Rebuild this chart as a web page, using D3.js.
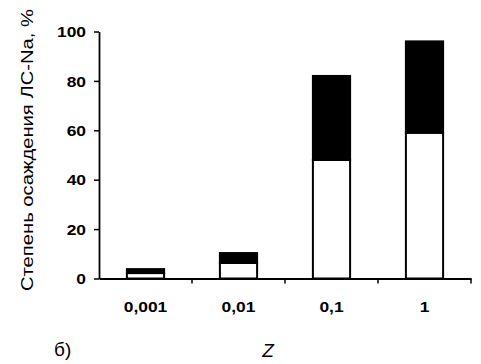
<!DOCTYPE html>
<html><head><meta charset="utf-8">
<script src="https://cdn.jsdelivr.net/npm/d3@7"></script>
<style>
html,body{margin:0;padding:0;background:#fff;}
svg text{font-family:"Liberation Sans",Arial,sans-serif;fill:#000;}
</style></head>
<body>
<svg id="c" width="481" height="364"></svg>
<script>
const categories = ["0,001", "0,01", "0,1", "1"];
const whitePart = [2.2, 6.3, 48, 59];
const darkPart  = [1.6, 4.0, 34, 37];
const yTicks = [0, 20, 40, 60, 80, 100];
const yLabel = "Степень осаждения ЛС-Na, %";
const xLabel = "Z";
const panelLabel = "б)";

const svg = d3.select("#c");
const x0 = 99, x1 = 471, yBottom = 278.5, yTop = 31.5;

const x = d3.scaleBand().domain(categories).range([x0, x1]).paddingInner(0.6).paddingOuter(0.3);
const y = d3.scaleLinear().domain([0, 100]).range([yBottom, yTop]);

const rows = categories.map((c, i) => ({c, w: whitePart[i], d: darkPart[i]}));

// bars
const g = svg.append("g");
g.selectAll("rect.w").data(rows).join("rect")
  .attr("x", r => x(r.c)).attr("width", x.bandwidth())
  .attr("y", r => y(r.w)).attr("height", r => y(0) - y(r.w))
  .attr("fill", "#fff").attr("stroke", "#000").attr("stroke-width", 2);
g.selectAll("rect.d").data(rows).join("rect")
  .attr("x", r => x(r.c)).attr("width", x.bandwidth())
  .attr("y", r => y(r.w + r.d)).attr("height", r => y(r.w) - y(r.w + r.d))
  .attr("fill", "#000").attr("stroke", "#000").attr("stroke-width", 2);

function stretch(sel, k) {
  sel.each(function() {
    const L = this.getComputedTextLength();
    d3.select(this).attr("textLength", L * k).attr("lengthAdjust", "spacingAndGlyphs");
  });
}

// y axis
const ya = svg.append("g").attr("transform", `translate(${x0},0)`)
  .call(d3.axisLeft(y).tickValues(yTicks).tickSize(5).tickPadding(8).tickSizeOuter(0));
ya.select(".domain").attr("stroke-width", 1.8);
ya.selectAll(".tick line").attr("stroke-width", 1.5);
ya.selectAll(".tick text").attr("font-size", 14.5).attr("font-weight", "bold")
  .attr("font-family", "Liberation Sans, Arial, sans-serif").attr("dy", "0.36em");
stretch(ya.selectAll(".tick text"), 1.2);

// x axis
const xa = svg.append("g").attr("transform", `translate(0,${yBottom})`)
  .call(d3.axisBottom(x).tickSize(0).tickPadding(23).tickSizeOuter(0));
xa.select(".domain").attr("stroke-width", 1.8);
xa.selectAll(".tick text").attr("font-size", 14.5).attr("font-weight", "bold")
  .attr("font-family", "Liberation Sans, Arial, sans-serif");
stretch(xa.selectAll(".tick text"), 1.2);
// boundary ticks between bands
const step = x.step();
const bounds = categories.map(c => x(c) + x.bandwidth() + step * x.paddingInner() / 2);
bounds[bounds.length - 1] = x1;
xa.selectAll("line.b").data(bounds).join("line")
  .attr("x1", d => d).attr("x2", d => d).attr("y1", 0).attr("y2", 5)
  .attr("stroke", "#000").attr("stroke-width", 1.5);

// y label
const yl = svg.append("text").attr("transform", "translate(33,150) rotate(-90)")
  .attr("text-anchor", "middle").attr("font-size", 16.5).text(yLabel);
yl.attr("textLength", 282).attr("lengthAdjust", "spacingAndGlyphs");

// x label
svg.append("text").attr("x", 268).attr("y", 357).attr("text-anchor", "middle")
  .attr("font-size", 19).attr("font-style", "italic").text(xLabel);

// panel label
svg.append("text").attr("x", 54).attr("y", 356)
  .attr("font-size", 19).text(panelLabel);
</script>
</body></html>
